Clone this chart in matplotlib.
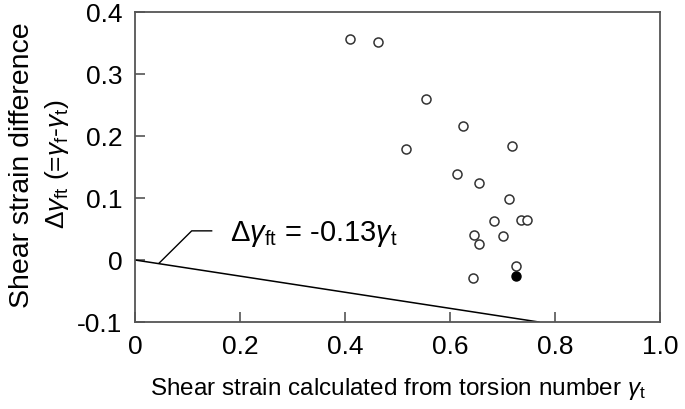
import matplotlib
matplotlib.use("Agg")
import matplotlib.pyplot as plt
import numpy as np

plt.rcParams['font.family'] = ['Liberation Sans', 'DejaVu Sans']
plt.rcParams['mathtext.fontset'] = 'custom'
plt.rcParams['mathtext.rm'] = 'Liberation Sans'
plt.rcParams['mathtext.it'] = 'Liberation Sans:italic'
plt.rcParams['mathtext.sf'] = 'Liberation Sans'

# open circles: gamma_t vs delta gamma_ft
gamma_t = [0.410, 0.462, 0.554, 0.625, 0.516, 0.718, 0.614, 0.656, 0.712,
           0.683, 0.735, 0.747, 0.645, 0.655, 0.700, 0.726, 0.644]
delta_ft = [0.356, 0.351, 0.260, 0.216, 0.179, 0.184, 0.138, 0.125, 0.098,
            0.063, 0.065, 0.064, 0.041, 0.026, 0.039, -0.010, -0.029]
# filled point
gamma_t_filled = [0.726]
delta_ft_filled = [-0.026]

slope = -0.13
x_ticks = [0, 0.2, 0.4, 0.6, 0.8, 1.0]
x_labels = ['0', '0.2', '0.4', '0.6', '0.8', '1.0']
y_ticks = [-0.1, 0, 0.1, 0.2, 0.3, 0.4]
y_labels = ['-0.1', '0', '0.1', '0.2', '0.3', '0.4']

fig = plt.figure(figsize=(6.85, 4.10), dpi=100)
ax = fig.add_axes([135 / 685, 87 / 410, 525 / 685, 310 / 410])

frame_col = '#555555'
for s in ax.spines.values():
    s.set_color(frame_col)
    s.set_linewidth(1.3)

line_x = np.array([0, -0.1 / slope])
ax.plot(line_x, slope * line_x, color='black', lw=1.1)

ax.plot(gamma_t, delta_ft, 'o', mfc='white', mec='#333333', mew=1.1, ms=6.5)
ax.plot(gamma_t_filled, delta_ft_filled, 'o', mfc='black', mec='black', ms=6.5)

# leader line to equation label
ax.plot([0.046, 0.108, 0.146], [-0.005, 0.047, 0.047], color='black', lw=1.0)
ax.text(0.181, 0.044, r'$\mathit{Δγ}_{\rm ft}$ = -0.13$\mathit{γ}_{\rm t}$',
        fontsize=21, va='center', ha='left')

ax.set_xlim(0, 1.0)
ax.set_ylim(-0.1, 0.4)
ax.set_xticks(x_ticks)
ax.set_xticklabels(x_labels)
ax.set_yticks(y_ticks)
ax.set_yticklabels(y_labels)
ax.tick_params(direction='in', length=7, width=1.2, color=frame_col,
               labelsize=19, pad=9)

ax.set_xlabel(r'Shear strain calculated from torsion number $\mathit{γ}_{\rm t}$',
              fontsize=17.5, labelpad=12)

# y label written as two separate lines (different sizes in the reference)
fig.text(22 / 685, 0.598, 'Shear strain difference', fontsize=20.5,
         rotation=90, ha='center', va='center')
fig.text(57 / 685, 0.600,
         r'$\mathit{Δγ}_{\rm ft}$ (=$\mathit{γ}_{\rm f}$-$\mathit{γ}_{\rm t}$)',
         fontsize=19, rotation=90, ha='center', va='center')

fig.savefig('out.png', dpi=100)
